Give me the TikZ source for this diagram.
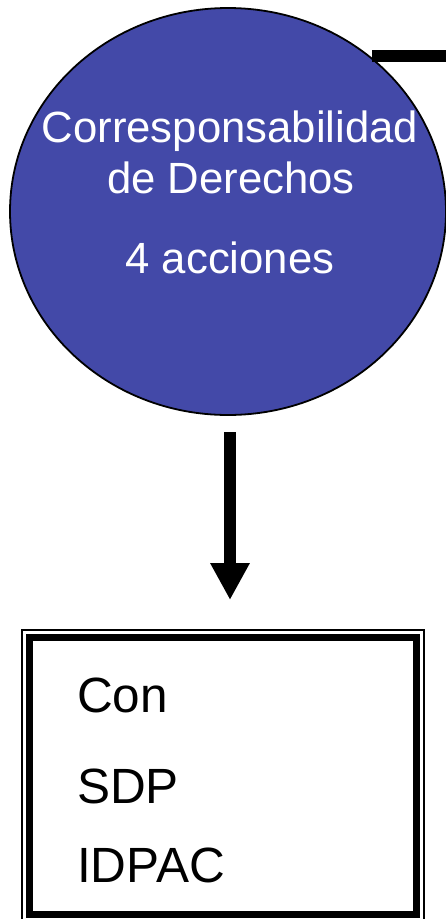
\documentclass[tikz,border=0pt]{standalone}
\usepackage{fontspec}
\setmainfont{Liberation Sans}
\usetikzlibrary{shapes.geometric,arrows.meta}
\definecolor{discblue}{RGB}{67,73,168}
\tikzset{
  disc/.style={ellipse, draw=black, line width=1.8pt, fill=discblue, inner sep=0pt, outer sep=0pt,
               minimum width=436pt, minimum height=407pt},
  disctext/.style={anchor=base, text=white, inner sep=0pt, font=\fontsize{43.7}{44}\selectfont},
  boxtext/.style={anchor=base west, text=black, inner sep=0pt, font=\fontsize{49.5}{50}\selectfont},
  thickframe/.style={draw=black, line width=7pt, inner sep=0pt, outer sep=0pt,
               minimum width=386.5pt, minimum height=277.5pt},
  bigarrow/.style={line width=12pt, -{Triangle[length=37pt,width=37pt]}}
}
\begin{document}
\begin{tikzpicture}[x=1pt,y=-1pt]
\useasboundingbox (0,0) rectangle (446,919);
% disc
\node[disc] (circ) at (228,211.5) {};
\node[disctext] (t1) at (230,142) {Corresponsabilidad};
\node[disctext] (t2) at (231,193) {de Derechos};
\node[disctext] (t3) at (230,273) {4 acciones};
% top-right bar
\coordinate (b1) at (372,56);
\coordinate (b2) at (452,56);
\draw[line width=12pt] (b1) -- (b2);
% box
\node[thickframe] (box) at (222.75,775.75) {};
\draw[line width=2pt] ([shift={(-7.5,-7)}]box.north west) rectangle ([shift={(7.5,8)}]box.south east);
\node[boxtext] (c1) at (77,712) {Con};
\node[boxtext] (c2) at (77,803) {SDP};
\node[boxtext] (c3) at (77,882) {IDPAC};
% arrow
\coordinate (a0) at ([xshift=2pt]circ.south);
\draw[bigarrow, shorten <=17pt, shorten >=37pt] (a0) -- (a0 |- box.north);
\end{tikzpicture}
\end{document}
